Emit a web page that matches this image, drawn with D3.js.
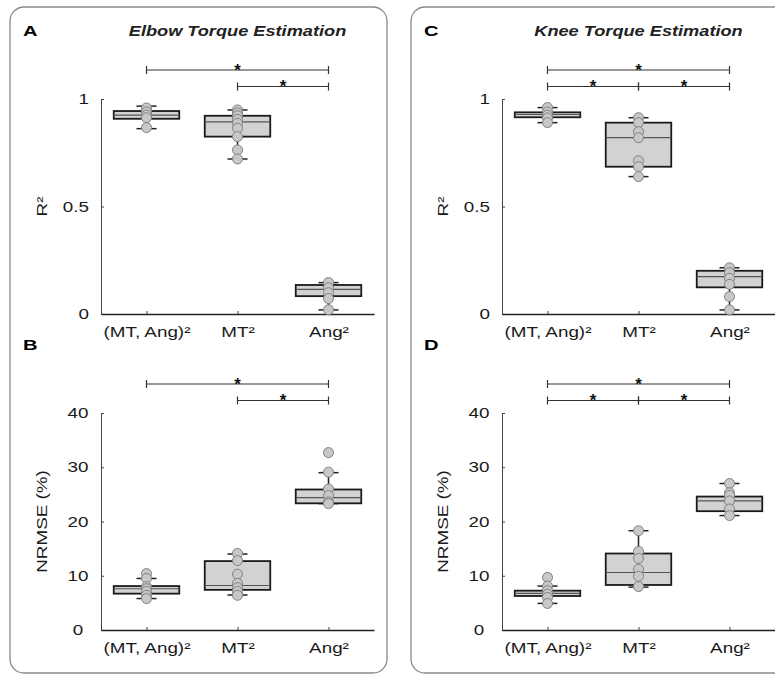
<!DOCTYPE html>
<html>
<head>
<meta charset="utf-8">
<script src="https://cdn.jsdelivr.net/npm/d3@7"></script>
<style>
  body { margin: 0; background: #fff; }
  svg { display: block; font-family: "Liberation Sans", Arial, sans-serif; }
</style>
</head>
<body>
<div id="graph"></div>
<script>
// categories shared by all four panels
const categories = ["(MT, Ang)²", "MT²", "Ang²"];

// box stats per group: [lower whisker, q1, median, q3, upper whisker]
const elbowR2Box = [[0.862, 0.908, 0.925, 0.944, 0.967], [0.721, 0.825, 0.894, 0.922, 0.949], [0.019, 0.083, 0.115, 0.135, 0.146]];
const elbowR2Pts = [[0.958, 0.94, 0.925, 0.913, 0.867], [0.949, 0.935, 0.922, 0.905, 0.887, 0.864, 0.825, 0.763, 0.721], [0.146, 0.122, 0.099, 0.072, 0.02]];

const elbowErrBox = [[5.8, 6.7, 7.6, 8.1, 9.5], [6.45, 7.4, 8.2, 12.7, 14.0], [23.3, 23.35, 24.4, 25.9, 29.0]];
const elbowErrPts = [[10.4, 9.5, 8.0, 7.6, 7.1, 6.4, 5.8], [14.1, 12.8, 10.3, 8.6, 7.8, 7.1, 6.4], [32.7, 29.1, 26.0, 24.8, 23.6, 23.3]];

const kneeR2Box = [[0.89, 0.915, 0.928, 0.938, 0.96], [0.639, 0.685, 0.82, 0.89, 0.913], [0.019, 0.124, 0.174, 0.201, 0.215]];
const kneeR2Pts = [[0.96, 0.94, 0.925, 0.912, 0.89], [0.913, 0.89, 0.848, 0.82, 0.713, 0.685, 0.639], [0.215, 0.192, 0.166, 0.138, 0.081, 0.019]];

const kneeErrBox = [[4.9, 6.27, 6.76, 7.25, 8.1], [7.9, 8.3, 10.6, 14.1, 18.3], [21.1, 21.9, 23.8, 24.6, 27.0]];
const kneeErrPts = [[9.7, 8.1, 7.25, 6.6, 6.0, 4.9], [18.3, 14.5, 13.2, 11.2, 9.9, 8.0], [27.0, 25.3, 24.8, 23.8, 22.3, 21.1]];

// tick values
const r2Ticks = [0, 0.5, 1];
const errTicks = [0, 10, 20, 30, 40];

// significance brackets: [from group, to group, row] (row 0 = upper)
const elbowSig = [[1, 3, 0], [2, 3, 1]];
const kneeSig = [[1, 3, 0], [1, 2, 1], [2, 3, 1]];

const width = 775;
const height = 676;
const K = 1.3; // horizontal stretch of the text

let svg = d3.select("#graph").append("svg").attr("width", width).attr("height", height);

// stretch text along its own direction, keeping its anchor point
function stretch(sel, k) {
  sel.each(function() {
    let t = d3.select(this);
    let x = +t.attr("x") || 0;
    let y = +t.attr("y") || 0;
    t.attr("transform", `translate(${x},${y}) scale(${k},1) translate(${-x},${-y})`);
  });
}

// panel frames
svg.append("rect").attr("x", 10).attr("y", 7).attr("width", 377).attr("height", 666)
  .attr("rx", 14).attr("fill", "none").attr("stroke", "#8a8a8a").attr("stroke-width", 1.3);
svg.append("rect").attr("x", 411).attr("y", 7).attr("width", 420).attr("height", 666)
  .attr("rx", 14).attr("fill", "none").attr("stroke", "#8a8a8a").attr("stroke-width", 1.3);

function drawPanel(p) {
  let x = d3.scaleLinear().domain([0.5, 3.5]).range([p.left, p.left + 273]);
  let y = d3.scaleLinear().domain(p.domain).range([p.bottom, p.top]);
  let g = svg.append("g");

  // y axis, ticks inside
  let yAxis = g.append("g").attr("transform", `translate(${p.left},0)`)
    .call(d3.axisLeft(y).tickValues(p.ticks).tickFormat(d3.format("")).tickSize(-3).tickSizeOuter(0).tickPadding(p.tickPad));
  yAxis.select(".domain").attr("stroke", "#444");
  yAxis.selectAll(".tick line").attr("stroke", "#444");
  yAxis.selectAll("text").attr("font-size", "14.5px").attr("fill", "#1a1a1a").attr("text-anchor", p.tickAnchor);
  stretch(yAxis.selectAll("text"), K);

  // x axis, ticks inside
  let xAxis = g.append("g").attr("transform", `translate(0,${p.bottom})`)
    .call(d3.axisBottom(x).tickValues([1, 2, 3]).tickFormat(d => categories[d - 1]).tickSize(-3).tickSizeOuter(0).tickPadding(13));
  xAxis.select(".domain").attr("stroke", "#222").attr("stroke-width", 1.4);
  xAxis.selectAll(".tick line").attr("stroke", "#444");
  xAxis.selectAll("text").attr("font-size", "14.5px").attr("fill", "#1a1a1a");
  stretch(xAxis.selectAll("text"), K);

  // boxes
  let bw = 0.36;
  let cw = 0.11;
  let boxes = g.selectAll(".box").data(p.box).enter().append("g").attr("class", "box");
  boxes.append("line")
    .attr("x1", (d, i) => x(i + 1)).attr("x2", (d, i) => x(i + 1))
    .attr("y1", d => y(d[0])).attr("y2", d => y(d[4]))
    .attr("stroke", "#222").attr("stroke-width", 1.5);
  boxes.append("line")
    .attr("x1", (d, i) => x(i + 1 - cw)).attr("x2", (d, i) => x(i + 1 + cw))
    .attr("y1", d => y(d[0])).attr("y2", d => y(d[0]))
    .attr("stroke", "#222").attr("stroke-width", 1.5);
  boxes.append("line")
    .attr("x1", (d, i) => x(i + 1 - cw)).attr("x2", (d, i) => x(i + 1 + cw))
    .attr("y1", d => y(d[4])).attr("y2", d => y(d[4]))
    .attr("stroke", "#222").attr("stroke-width", 1.5);
  boxes.append("rect")
    .attr("x", (d, i) => x(i + 1 - bw)).attr("width", (d, i) => x(i + 1 + bw) - x(i + 1 - bw))
    .attr("y", d => y(d[3])).attr("height", d => y(d[1]) - y(d[3]))
    .attr("fill", "#d2d2d2").attr("stroke", "#1a1a1a").attr("stroke-width", 1.8);
  boxes.append("line")
    .attr("x1", (d, i) => x(i + 1 - bw)).attr("x2", (d, i) => x(i + 1 + bw))
    .attr("y1", d => y(d[2])).attr("y2", d => y(d[2]))
    .attr("stroke", "#555").attr("stroke-width", 1.2);

  // individual points
  p.pts.forEach(function(vals, i) {
    g.selectAll(null).data(vals).enter().append("circle")
      .attr("cx", x(i + 1)).attr("cy", d => y(d)).attr("r", 5)
      .attr("fill", "#c8c8c8").attr("stroke", "#808080").attr("stroke-width", 1);
  });

  // significance brackets
  let rowY = [p.top - 29, p.top - 12.5];
  p.sig.forEach(function(s) {
    let yy = rowY[s[2]];
    let x1 = x(s[0]), x2 = x(s[1]);
    g.append("line").attr("x1", x1).attr("x2", x2).attr("y1", yy).attr("y2", yy)
      .attr("stroke", "#333").attr("stroke-width", 1.2);
    [x1, x2].forEach(function(xx) {
      g.append("line").attr("x1", xx).attr("x2", xx).attr("y1", yy - 4).attr("y2", yy + 4)
        .attr("stroke", "#333").attr("stroke-width", 1.2);
    });
    g.append("text").attr("x", (x1 + x2) / 2).attr("y", yy + 5.5)
      .attr("text-anchor", "middle").attr("font-size", "17px").attr("font-weight", "bold")
      .attr("fill", "#111").text("*");
  });

  // y label
  let lab = g.append("g").attr("transform", `translate(${p.left - 54},${(p.top + p.bottom) / 2}) rotate(-90)`)
    .append("text").attr("x", 0).attr("y", 0).attr("text-anchor", "middle")
    .attr("font-size", "14.5px").attr("fill", "#1a1a1a").text(p.ylabel);
  stretch(lab, K);

  // panel letter
  let letter = g.append("text").attr("x", p.left - 78).attr("y", p.top - 63)
    .attr("font-size", "15.5px").attr("font-weight", "bold").attr("fill", "#000").text(p.letter);
  stretch(letter, K);

  if (p.title) {
    let t = g.append("text").attr("x", x(2)).attr("y", 36).attr("text-anchor", "middle")
      .attr("font-size", "14px").attr("font-weight", "bold").attr("font-style", "italic")
      .attr("fill", "#222").text(p.title);
    stretch(t, 1.3);
  }
}

drawPanel({ left: 101, top: 99, bottom: 314, domain: [0, 1], ticks: r2Ticks, tickPad: 12, tickAnchor: "end",
  box: elbowR2Box, pts: elbowR2Pts, sig: elbowSig, ylabel: "R²", letter: "A", title: "Elbow Torque Estimation" });
drawPanel({ left: 101, top: 413, bottom: 630, domain: [0, 40], ticks: errTicks, tickPad: 23, tickAnchor: "middle",
  box: elbowErrBox, pts: elbowErrPts, sig: elbowSig, ylabel: "NRMSE (%)", letter: "B" });
drawPanel({ left: 502, top: 99, bottom: 314, domain: [0, 1], ticks: r2Ticks, tickPad: 12, tickAnchor: "end",
  box: kneeR2Box, pts: kneeR2Pts, sig: kneeSig, ylabel: "R²", letter: "C", title: "Knee Torque Estimation" });
drawPanel({ left: 502, top: 413, bottom: 630, domain: [0, 40], ticks: errTicks, tickPad: 23, tickAnchor: "middle",
  box: kneeErrBox, pts: kneeErrPts, sig: kneeSig, ylabel: "NRMSE (%)", letter: "D" });
</script>
</body>
</html>
